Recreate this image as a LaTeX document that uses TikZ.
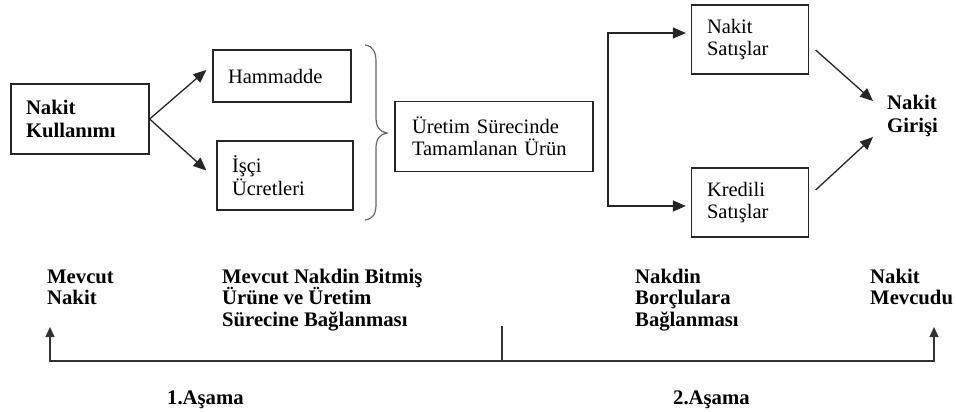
\documentclass[tikz,border=0pt]{standalone}
\usepackage{fontspec}
\setmainfont{Liberation Serif}
\usetikzlibrary{arrows.meta,calc}
\begin{document}
\begin{tikzpicture}[x=1pt,y=-1pt,
  box/.style={draw=black!85,line width=1.3pt,rectangle,inner xsep=15pt,inner ysep=0pt,align=left,
    font=\fontsize{20.5}{22.5}\selectfont},
  lbl/.style={inner sep=0pt,align=left,font=\fontsize{20.7}{21.5}\selectfont\bfseries},
  arr/.style={-{Triangle[length=13pt,width=11pt]},line width=1.3pt,draw=black!85},
  arrs/.style={line width=1.3pt,draw=black!80}]
\useasboundingbox (0,0) rectangle (956,412);
% boxes
\node[box,minimum width=138pt,minimum height=70pt,text width=108pt,font=\fontsize{20.7}{22.5}\selectfont\bfseries] (nk) at (80,119) {Nakit\\Kullanımı};
\node[box,minimum width=138pt,minimum height=52pt,text width=108pt] (ham) at (282,76) {Hammadde};
\node[box,minimum width=136pt,minimum height=69pt,text width=106pt] (isci) at (285,175.5) {İşçi\\Ücretleri};
\node[box,minimum width=198pt,minimum height=70pt,text width=164pt,inner xsep=17pt] (ur) at (494,136.5) {Üretim Sürecinde\\Tamamlanan Ürün};
\node[box,minimum width=117pt,minimum height=69pt,text width=86pt,inner xsep=15.5pt] (ns) at (750,39.5) {Nakit\\Satışlar};
\node[box,minimum width=117pt,minimum height=69pt,text width=86pt,inner xsep=15.5pt] (ks) at (750,202.5) {Kredili\\Satışlar};
\node[lbl,anchor=west,font=\fontsize{20.7}{23}\selectfont\bfseries] (ng) at (887,116) {Nakit\\Girişi};
% arrows
\draw[arr] (nk.east) -- ($(ham.west)+(-6,-6)$);
\draw[arr] (nk.east) -- ($(isci.west)+(-10,-5)$);
\coordinate (split) at (608,118);
\draw[arr] (split) |- ($(ns.west)+(-5,-6.5)$);
\draw[arr] (split) |- ($(ks.west)+(-5,3.5)$);
\draw[arr] ($(ns.east)+(6.5,10.5)$) -- ($(ng.west)+(-14,-15)$);
\draw[arr] ($(ks.east)+(6.5,-12.5)$) -- ($(ng.west)+(-14,21)$);
% brace
\draw[line width=1.2pt,draw=black!60] (365,45) .. controls (373,46) and (376,52) .. (376,62)
  -- (376,118) .. controls (376,127) and (380,132) .. (387,133)
  .. controls (380,134) and (376,139) .. (376,148)
  -- (376,204) .. controls (376,214) and (373,219) .. (365,220);
% bottom timeline
\coordinate (Lt) at (50,327);
\coordinate (L) at (50,361);
\coordinate (M) at (502,361);
\coordinate (Mt) at (502,326);
\coordinate (R) at (934,361);
\coordinate (Rt) at (934,327);
\draw[arrs,{Triangle[length=10pt,width=9pt]}-{Triangle[length=10pt,width=9pt]}] (Lt) -- (L) -- (R) -- (Rt);
\draw[arrs] (M) -- (Mt);
% bottom labels (base = last line)
\node[lbl,anchor=base west] (t1) at (47,304.5) {Mevcut\\Nakit};
\node[lbl,anchor=base west] (t2) at (222,326) {Mevcut Nakdin Bitmiş\\Ürüne ve Üretim\\Sürecine Bağlanması};
\node[lbl,anchor=base west] (t3) at (635,326) {Nakdin\\Borçlulara\\Bağlanması};
\node[lbl,anchor=base west] (t4) at (870,304.5) {Nakit\\Mevcudu};
\node[lbl,anchor=base west] (a1) at (167,404) {1.Aşama};
\node[lbl,anchor=base west] (a2) at (673,404) {2.Aşama};
\end{tikzpicture}
\end{document}
